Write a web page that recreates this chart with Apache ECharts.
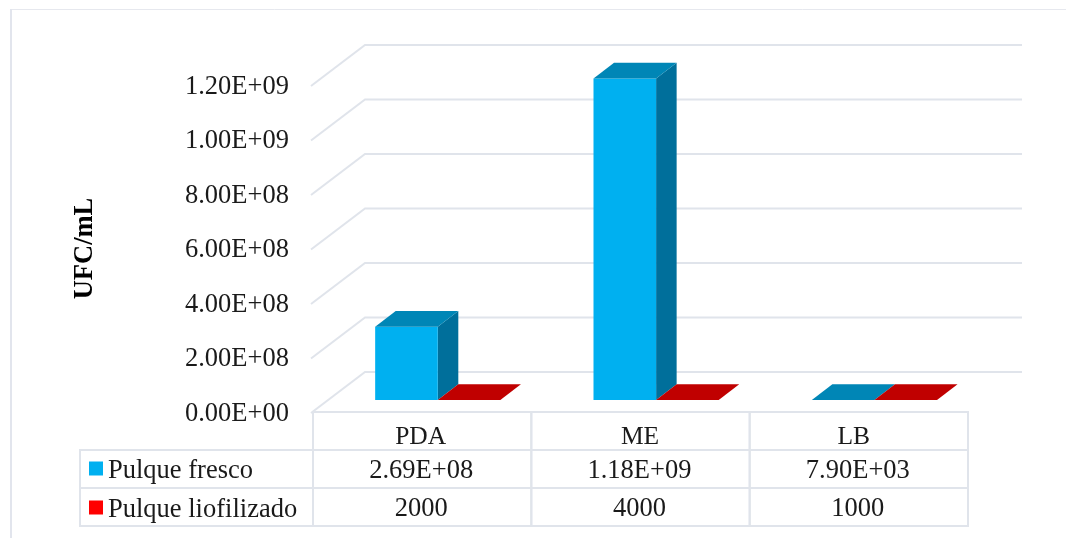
<!DOCTYPE html>
<html>
<head>
<meta charset="utf-8">
<style>html,body{margin:0;padding:0;background:#fff}#c{width:1066px;height:538px}</style>
<script src="https://cdn.jsdelivr.net/npm/echarts@6/dist/echarts.min.js"></script>
</head>
<body>
<div id="c"></div>
<script>
const categories = ['PDA', 'ME', 'LB'];
const seriesNames = ['Pulque fresco', 'Pulque liofilizado'];
const fresco = [2.69e8, 1.18e9, 7.9e3];
const liofilizado = [2000, 4000, 1000];
const frescoLabels = ['2.69E+08', '1.18E+09', '7.90E+03'];
const liofilizadoLabels = ['2000', '4000', '1000'];
const yTicks = [0, 2e8, 4e8, 6e8, 8e8, 1e9, 1.2e9];
const yTickLabels = ['0.00E+00', '2.00E+08', '4.00E+08', '6.00E+08', '8.00E+08', '1.00E+09', '1.20E+09'];

const FONT = '"Liberation Serif", "Times New Roman", serif';
const FS = 26.5, TXT = '#1a1a1a', LINE = '#e0e4eb';
const DX = 52, DY = 40;            // full depth of the floor
const NEAR = 0.3, FAR = 0.695;     // bars occupy this depth slice
const BAR_W = 62.6, ROW = 38;
const faces = [
  { front: '#00b0f0', top: '#0086b6', side: '#006f9b' },
  { front: '#ff0000', top: '#c00000', side: '#990000' }
];

function lineEl(x1, y1, x2, y2) {
  return { type: 'line', shape: { x1, y1, x2, y2 }, style: { stroke: LINE, lineWidth: 2, fill: null } };
}
function polyEl(points, fill) {
  return { type: 'polygon', shape: { points }, style: { fill, stroke: null } };
}

function renderWall(params, api) {
  const v = api.value(0);
  const band = api.size([1, 0])[0];
  const p0 = api.coord([0, v]);
  const p2 = api.coord([categories.length - 1, v]);
  const left = p0[0] - band / 2, right = p2[0] + band / 2, y = p0[1];
  return {
    type: 'polyline',
    shape: { points: [[left - 2, y + 1], [left + DX, y - DY], [right + DX + 2, y - DY]] },
    style: { stroke: LINE, lineWidth: 2, fill: null }
  };
}

function makeBarRenderer(seriesIdx) {
  return function (params, api) {
    const c = api.value(0), v = api.value(1);
    const top = api.coord([c, v]);
    const base = api.coord([c, 0]);
    const nx = DX * NEAR, ny = DY * NEAR;
    const ddx = DX * (FAR - NEAR), ddy = DY * (FAR - NEAR);
    const x0 = top[0] + nx + (seriesIdx === 0 ? -BAR_W : 0);
    const x1 = x0 + BAR_W;
    const yb = base[1] - ny, yt = top[1] - ny;
    const f = faces[seriesIdx];
    return {
      type: 'group',
      children: [
        polyEl([[x1, yb], [x1 + ddx, yb - ddy], [x1 + ddx, yt - ddy], [x1, yt]], f.side),
        polyEl([[x0, yb], [x1, yb], [x1, yt], [x0, yt]], f.front),
        polyEl([[x0, yt], [x1, yt], [x1 + ddx, yt - ddy], [x0 + ddx, yt - ddy]], f.top)
      ]
    };
  };
}

function renderTable(params, api) {
  const c = api.value(0);
  const band = api.size([1, 0])[0];
  const p = api.coord([c, 0]);
  const x = p[0] - band / 2, y = p[1];
  const children = [
    lineEl(x, y, x + band, y),
    lineEl(x, y + ROW, x + band, y + ROW),
    lineEl(x, y + 2 * ROW, x + band, y + 2 * ROW),
    lineEl(x, y + 3 * ROW, x + band, y + 3 * ROW),
    lineEl(x, y - 1, x, y + 3 * ROW + 1),
    lineEl(x + band, y - 1, x + band, y + 3 * ROW + 1)
  ];
  [frescoLabels, liofilizadoLabels].forEach((labels, r) => {
    children.push({
      type: 'text',
      style: {
        text: labels[c], x: p[0] - 1, y: y + ROW * (r + 1.5) + 2,
        align: 'center', verticalAlign: 'middle',
        font: FS + 'px ' + FONT, fill: TXT
      }
    });
  });
  return { type: 'group', children };
}

const baseText = { fontFamily: FONT, fontSize: FS, color: TXT };
const chart = echarts.init(document.getElementById('c'), null, { renderer: 'canvas', width: 1066, height: 538 });
chart.setOption({
  animation: false,
  backgroundColor: '#fff',
  grid: { left: 313, right: 98, top: 85, bottom: 126, containLabel: false },
  legend: {
    data: seriesNames,
    orient: 'vertical', left: 84, top: 447,
    itemWidth: 14, itemHeight: 14, itemGap: 6, icon: 'rect',
    selectedMode: false,
    formatter: n => '{a|' + n + '}',
    textStyle: { ...baseText, rich: { a: { ...baseText, lineHeight: 26, padding: [6, 0, 0, 0] } } }
  },
  xAxis: {
    type: 'category', data: categories,
    axisLine: { show: false }, axisTick: { show: false }, splitLine: { show: false },
    axisLabel: {
      ...baseText, margin: 12,
      formatter: (v, i) => '{c' + i + '|' + v + '}',
      rich: {
        c0: { fontFamily: FONT, fontSize: 25.5, color: TXT, padding: [0, 3, 0, 0] },
        c1: { fontFamily: FONT, fontSize: 25.5, color: TXT, padding: [0, 1, 0, 0] },
        c2: { fontFamily: FONT, fontSize: 25.5, color: TXT, padding: [0, 10, 0, 0] }
      }
    }
  },
  yAxis: {
    type: 'value', min: 0, max: 1.2e9, interval: 2e8,
    name: 'UFC/mL', nameLocation: 'middle', nameGap: 214, nameRotate: 90,
    nameTextStyle: { fontFamily: FONT, fontSize: FS, fontWeight: 'bold', color: '#000' },
    axisLine: { show: false }, axisTick: { show: false }, splitLine: { show: false },
    axisLabel: {
      ...baseText, margin: 24,
      formatter: (v, i) => '{t|' + yTickLabels[i] + '}',
      rich: { t: { ...baseText, padding: [4, 0, 0, 0] } }
    }
  },
  graphic: [
    { type: 'line', silent: true, shape: { x1: 11, y1: 9.5, x2: 1066, y2: 9.5 }, style: { stroke: '#e6e8ee', lineWidth: 1 } },
    { type: 'line', silent: true, shape: { x1: 11, y1: 9, x2: 11, y2: 538 }, style: { stroke: '#e2e5ed', lineWidth: 2 } },
    { type: 'rect', silent: true, shape: { x: 80, y: 450, width: 233, height: 76 }, style: { fill: null, stroke: LINE, lineWidth: 2 } },
    { type: 'line', silent: true, shape: { x1: 80, y1: 488, x2: 313, y2: 488 }, style: { stroke: LINE, lineWidth: 2 } }
  ],
  series: [
    { name: 'walls', type: 'custom', silent: true, coordinateSystem: 'cartesian2d',
      data: yTicks.map(v => [v]), encode: { y: 0 }, renderItem: renderWall, z: 1 },
    { name: 'table', type: 'custom', silent: true, coordinateSystem: 'cartesian2d',
      data: categories.map((_, i) => [i]), encode: { x: 0 }, renderItem: renderTable, z: 1 },
    { name: seriesNames[0], type: 'custom', coordinateSystem: 'cartesian2d',
      itemStyle: { color: faces[0].front }, clip: false,
      data: fresco.map((v, i) => [i, v]), encode: { x: 0, y: 1 }, renderItem: makeBarRenderer(0), z: 2 },
    { name: seriesNames[1], type: 'custom', coordinateSystem: 'cartesian2d',
      itemStyle: { color: faces[1].front }, clip: false,
      data: liofilizado.map((v, i) => [i, v]), encode: { x: 0, y: 1 }, renderItem: makeBarRenderer(1), z: 3 }
  ]
});
</script>
</body>
</html>
